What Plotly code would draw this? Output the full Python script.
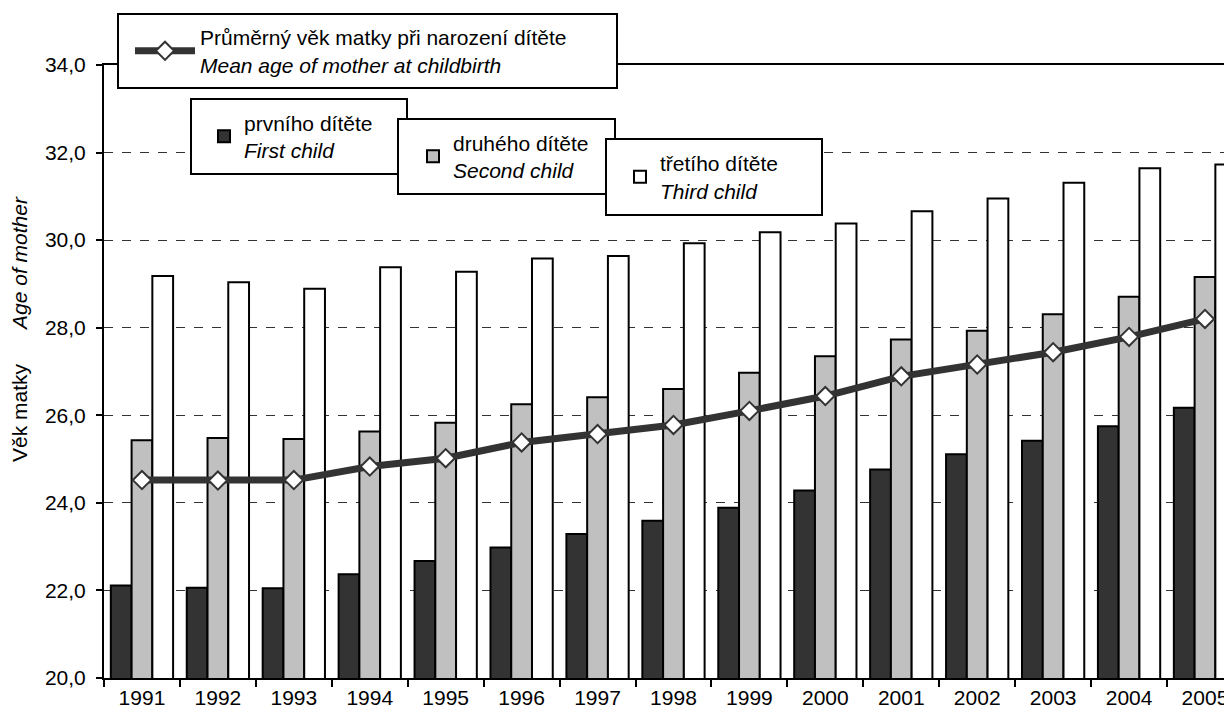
import plotly.graph_objects as go

years = ["1991", "1992", "1993", "1994", "1995", "1996", "1997", "1998",
         "1999", "2000", "2001", "2002", "2003", "2004", "2005"]
first_child = [22.11, 22.06, 22.05, 22.37, 22.67, 22.98, 23.29, 23.59,
               23.89, 24.28, 24.76, 25.11, 25.42, 25.75, 26.17]
second_child = [25.43, 25.48, 25.46, 25.63, 25.83, 26.25, 26.41, 26.60,
                26.97, 27.35, 27.73, 27.93, 28.31, 28.71, 29.16]
third_child = [29.18, 29.04, 28.89, 29.38, 29.28, 29.58, 29.64, 29.93,
               30.18, 30.38, 30.66, 30.95, 31.31, 31.64, 31.73]
mean_age = [24.52, 24.51, 24.52, 24.83, 25.02, 25.38, 25.57, 25.78,
            26.10, 26.44, 26.89, 27.16, 27.44, 27.79, 28.20]

FONT = "Liberation Sans, Arial, sans-serif"
FS = 21

# page offset of the figure (default body margin) and figure size
OFF = 8
FIG_W, FIG_H = 1232 - OFF, 718 - OFF
# plot area geometry in screen pixels
L, T, W, H = 104, 65, 1232 - 104, 613
CAT_W = 75.93
X_END = -0.5 + W / CAT_W


def px(x):
    return (x - L) / W


def py(y):
    return (T + H - y) / H


fig = go.Figure()
fig.add_trace(go.Bar(x=years, y=first_child, name="prvního dítěte<br><i>First child</i>",
                     marker=dict(color="#333333", line=dict(color="black", width=2)),
                     legend="legend2", showlegend=True))
fig.add_trace(go.Bar(x=years, y=second_child, name="druhého dítěte<br><i>Second child</i>",
                     marker=dict(color="#c0c0c0", line=dict(color="black", width=2)),
                     legend="legend3", showlegend=True))
fig.add_trace(go.Bar(x=years, y=third_child, name="třetího dítěte<br><i>Third child</i>",
                     marker=dict(color="#ffffff", line=dict(color="black", width=2)),
                     legend="legend4", showlegend=True))
fig.add_trace(go.Scatter(x=years, y=mean_age, mode="lines+markers",
                         name="Průměrný věk matky při narození dítěte<br><i>Mean age of mother at childbirth</i>",
                         line=dict(color="#333333", width=7),
                         marker=dict(symbol="diamond", size=14, color="white",
                                     line=dict(color="#333333", width=2)),
                         legend="legend", showlegend=True))


def leg(xpx, ycpx, itemwidth=30):
    return dict(x=px(xpx), y=py(ycpx), xanchor="left", yanchor="middle",
                bgcolor="rgba(0,0,0,0)", borderwidth=0, itemwidth=itemwidth,
                font=dict(family=FONT, size=FS, color="black"))


boxes = [(118, 14, 617, 88), (191, 99, 407, 174), (398, 119, 615, 194), (606, 139, 822, 215)]
shapes = [dict(type="rect", xref="paper", yref="paper", x0=px(a), x1=px(c), y0=py(d), y1=py(b),
               fillcolor="white", line=dict(color="black", width=2), layer="above")
          for (a, b, c, d) in boxes]

fig.update_layout(
    width=FIG_W, height=FIG_H,
    margin=dict(l=L - OFF, r=FIG_W - (L - OFF) - W, t=T - OFF, b=FIG_H - (T - OFF) - H,
                autoexpand=False),
    plot_bgcolor="white", paper_bgcolor="white",
    separators=", ",
    showlegend=True,
    font=dict(family=FONT, size=FS, color="black"),
    barmode="group", bargap=0.18, bargroupgap=0,
    legend=leg(130, 51, itemwidth=60),
    legend2=leg(204, 136.5),
    legend3=leg(413, 156.5),
    legend4=leg(620, 177),
    shapes=shapes,
    xaxis=dict(type="category", range=[-0.5, X_END], tickson="boundaries",
               ticks="outside", ticklen=7, tickwidth=1.5, tickcolor="black",
               showline=True, linecolor="black", linewidth=2, mirror=True,
               showgrid=False, tickfont=dict(family=FONT, size=FS)),
    yaxis=dict(range=[20, 34], dtick=2, tickformat=".1f",
               ticks="outside", ticklen=6, tickwidth=1.5, tickcolor="black",
               ticklabelstandoff=6,
               showline=True, linecolor="black", linewidth=2,
               showgrid=True, gridcolor="#333333", gridwidth=1, griddash="dash",
               zeroline=False, tickfont=dict(family=FONT, size=FS)),
    annotations=[
        dict(text="Věk matky", xref="paper", yref="paper", x=px(19), y=py(413),
             textangle=-90, showarrow=False, xanchor="center", yanchor="middle",
             font=dict(family=FONT, size=FS)),
        dict(text="<i>Age of mother</i>", xref="paper", yref="paper", x=px(19), y=py(264),
             textangle=-90, showarrow=False, xanchor="center", yanchor="middle",
             font=dict(family=FONT, size=FS)),
    ],
)

fig.write_html("out.html")
